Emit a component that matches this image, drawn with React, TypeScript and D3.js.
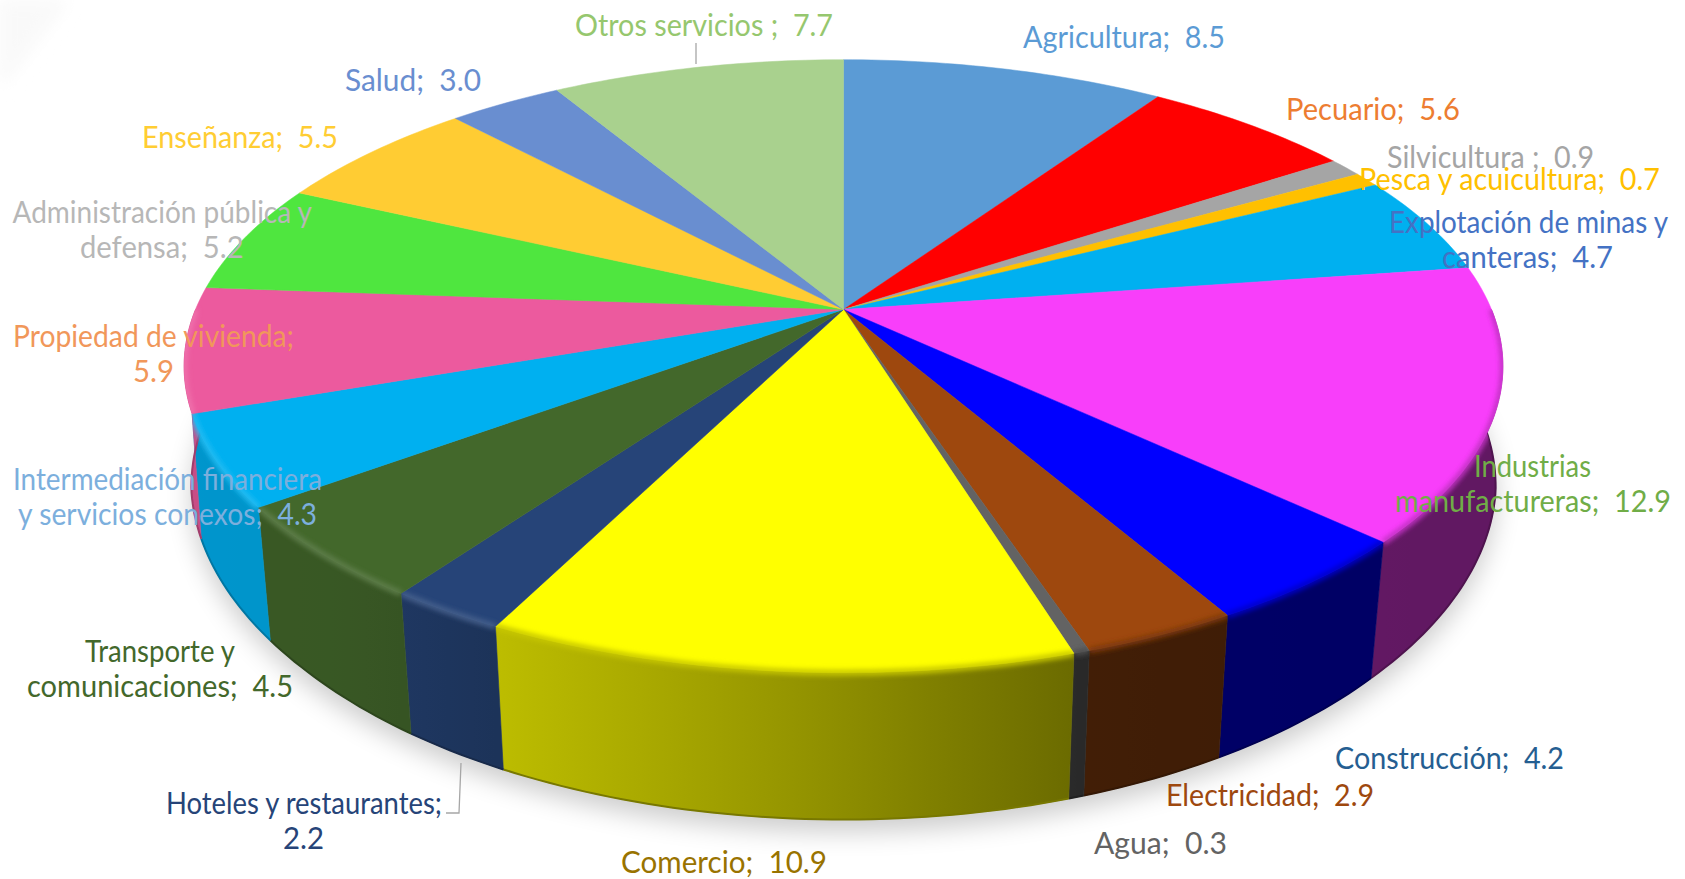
import React from "react";
import * as d3 from "d3";

const sectors = ["Agricultura","Pecuario","Silvicultura","Pesca y acuicultura","Explotación de minas y canteras","Industrias manufactureras","Construcción","Electricidad","Agua","Comercio","Hoteles y restaurantes","Transporte y comunicaciones","Intermediación financiera y servicios conexos","Propiedad de vivienda","Administración pública y defensa","Enseñanza","Salud","Otros servicios"];
const values = [8.5,5.6,0.9,0.7,4.7,12.9,4.2,2.9,0.3,10.9,2.2,4.5,4.3,5.9,5.2,5.5,3.0,7.7];
const faceColors = ["#5B9BD5","#FF0000","#A5A5A5","#FFC000","#00B0F0","#F83EFA","#0000FF","#9E480E","#636363","#FFFF00","#264478","#43682B","#00B0F0","#EC5A9E","#4FE63F","#FFCC33","#698ED0","#A9D18E"];
const labelColors = ["#5B9BD5","#ED7D31","#A5A5A5","#FFC000","#4472C4","#70AD47","#255E91","#9E480E","#636363","#997300","#264478","#43682B","#7CAFDD","#F1975A","#B7B7B7","#FFCD33","#698ED0","#96C76E"];
// text lines of each label, "#" stands for the value
const labelLines = [["Agricultura;  #"],["Pecuario;  #"],["Silvicultura ;  #"],["Pesca y acuicultura;  #"],["Explotación de minas y","canteras;  #"],["Industrias","manufactureras;  #"],["Construcción;  #"],["Electricidad;  #"],["Agua;  #"],["Comercio;  #"],["Hoteles y restaurantes;","#"],["Transporte y","comunicaciones;  #"],["Intermediación financiera","y servicios conexos;  #"],["Propiedad de vivienda;","#"],["Administración pública y","defensa;  #"],["Enseñanza;  #"],["Salud;  #"],["Otros servicios ;  #"]];
// per line: [left, right, baseline]
const labelBoxes: number[][][] = [
  [[1023,1225,48]],
  [[1286,1460,119.5]],
  [[1387,1594,168]],
  [[1359,1660,190]],
  [[1389,1668,233],[1442,1613,268]],
  [[1474,1591,477],[1395,1671,512]],
  [[1335,1564,769]],
  [[1166,1374,805.5]],
  [[1094,1227,854]],
  [[621,827,873]],
  [[166,442,814],[283,324,849]],
  [[85,235,662],[27,293,697]],
  [[13,322,490],[18,317,525]],
  [[13,294,347],[133,174,382]],
  [[12.5,312,223],[80,243.6,258]],
  [[142,338,148]],
  [[345,481,91]],
  [[575,833,35.5]],
];

const W = 1685, H = 879;
const cx = 843.5, cy = 309.5, R = 648, B = 296, K = 0.185;

const brightness = d3.scaleLinear().domain([200, 350, 500, 800, 1070, 1220, 1500]).range([0.85, 0.84, 0.74, 0.58, 0.42, 0.40, 0.39]).clamp(true);
const inward = d3.scaleLinear().domain([370, 540]).range([0.011, 0.0225]).clamp(true);

type P = [number, number];
const rimPoint = (a: number): P => {
  const X = Math.sin(a), Y = Math.cos(a), d = 1 + K * Y;
  return [cx + (R * X) / d, cy - (B * Y) / d];
};
const basePoint = (p: P): P => [p[0] - inward(p[1]) * (p[0] - cx), p[1] + 125 + 0.085 * (p[1] - 416)];
const sample = (a0: number, a1: number): number[] => {
  const n = Math.max(2, Math.ceil((a1 - a0) / (Math.PI / 180)));
  return d3.range(n + 1).map((i) => a0 + ((a1 - a0) * i) / n);
};
const line = d3.line<P>();
const shade = (c: string, f: number) => {
  const r = d3.rgb(c);
  return d3.rgb(r.r * f, r.g * f, r.b * f).formatHex();
};

const arcs = d3.pie<number>().sort(null).startAngle(0).endAngle(2 * Math.PI)(values);

export default function App() {
  const PI = Math.PI;
  const shadowPts = sample(0, 2 * PI).map((a) => basePoint(rimPoint(a)));
  const slices = arcs.map((arc, i) => {
    const a0 = arc.startAngle, a1 = arc.endAngle;
    const rim = sample(a0, a1).map(rimPoint);
    const face = `M${cx},${cy}L` + (line(rim) as string).slice(1) + "Z";
    const w0 = Math.max(a0, PI / 2), w1 = Math.min(a1, (3 * PI) / 2);
    const hasWall = w1 > w0;
    let wall = "", band = "", bottom = "", clip = face, minX = 0, maxX = 0;
    if (hasWall) {
      const top = sample(w0, w1).map(rimPoint);
      const bot = top.map(basePoint);
      wall = (line(top) as string) + "L" + (line([...bot].reverse()) as string).slice(1) + "Z";
      band = line(top) as string;
      bottom = line(bot) as string;
      clip = face + " " + wall;
      minX = d3.min(top, (p) => p[0]) as number;
      maxX = d3.max(top, (p) => p[0]) as number;
    }
    return { i, face, wall, band, bottom, clip, hasWall, minX, maxX };
  });

  return (
    <svg width={W} height={H} viewBox={`0 0 ${W} ${H}`} style={{ position: "absolute", left: 0, top: 0, display: "block", background: "#fff" }}>
      <defs>
        <filter id="sh" filterUnits="userSpaceOnUse" x="0" y="0" width={W} height={H}><feGaussianBlur stdDeviation="13" /></filter>
        <filter id="bl" filterUnits="userSpaceOnUse" x="0" y="0" width={W} height={H}><feGaussianBlur stdDeviation="2.4" /></filter>
        <filter id="cn" filterUnits="userSpaceOnUse" x="-50" y="-50" width="300" height="300"><feGaussianBlur stdDeviation="8" /></filter>
        {slices.filter((s) => s.hasWall).map((s) => (
          <linearGradient key={s.i} id={`w${s.i}`} gradientUnits="userSpaceOnUse" x1={s.minX} x2={s.maxX} y1="0" y2="0">
            {d3.range(5).map((k) => {
              const x = s.minX + ((s.maxX - s.minX) * k) / 4;
              return <stop key={k} offset={k / 4} stopColor={shade(faceColors[s.i], brightness(x))} />;
            })}
          </linearGradient>
        ))}
        {slices.map((s) => (
          <clipPath key={s.i} id={`c${s.i}`}><path d={s.clip} /></clipPath>
        ))}
      </defs>

      <path d="M0,0L70,0L0,90Z" fill="#f9f9f9" filter="url(#cn)" />
      <path d={(line(shadowPts) as string) + "Z"} transform="translate(0,12)" fill="#000" opacity={0.2} filter="url(#sh)" />

      {slices.filter((s) => s.hasWall).map((s) => (
        <g key={s.i}>
          <path d={s.wall} fill={`url(#w${s.i})`} stroke={`url(#w${s.i})`} strokeWidth={0.6} />
          <path d={s.bottom} fill="none" stroke={shade(faceColors[s.i], brightness((s.minX + s.maxX) / 2) * 0.8)} strokeWidth={2} />
        </g>
      ))}
      {slices.map((s) => (
        <path key={s.i} d={s.face} fill={faceColors[s.i]} stroke={faceColors[s.i]} strokeWidth={0.5} />
      ))}
      {slices.filter((s) => s.hasWall).map((s) => {
        const mid = (s.minX + s.maxX) / 2;
        const c = faceColors[s.i];
        const col = mid < 600 ? d3.interpolateRgb(c, "#ffffff")(c === "#FFFF00" ? 0 : 0.14) : d3.interpolateRgb(c, "#000000")(0.22);
        return (
          <g key={s.i} clipPath={`url(#c${s.i})`}>
            <path d={s.band} fill="none" stroke={col} strokeWidth={6} filter="url(#bl)" />
          </g>
        );
      })}

      <path d="M696,43V64" fill="none" stroke="#A6A6A6" strokeWidth={1.3} />
      <path d="M461,763L459,813H446" fill="none" stroke="#A6A6A6" strokeWidth={1.3} />

      {labelLines.map((lines, i) =>
        lines.map((t, j) => {
          const [l, r, y] = labelBoxes[i][j];
          const s = t.replace("#", values[i].toFixed(1)).replace(/  /g, "\u00a0\u00a0");
          return (
            <text key={`${i}-${j}`} x={l} y={y} fill={labelColors[i]} fontFamily="Lato, 'Noto Sans', sans-serif" fontSize={30} textLength={r - l} lengthAdjust="spacingAndGlyphs" style={{ whiteSpace: "pre" }}>
              {s}
            </text>
          );
        })
      )}
    </svg>
  );
}
